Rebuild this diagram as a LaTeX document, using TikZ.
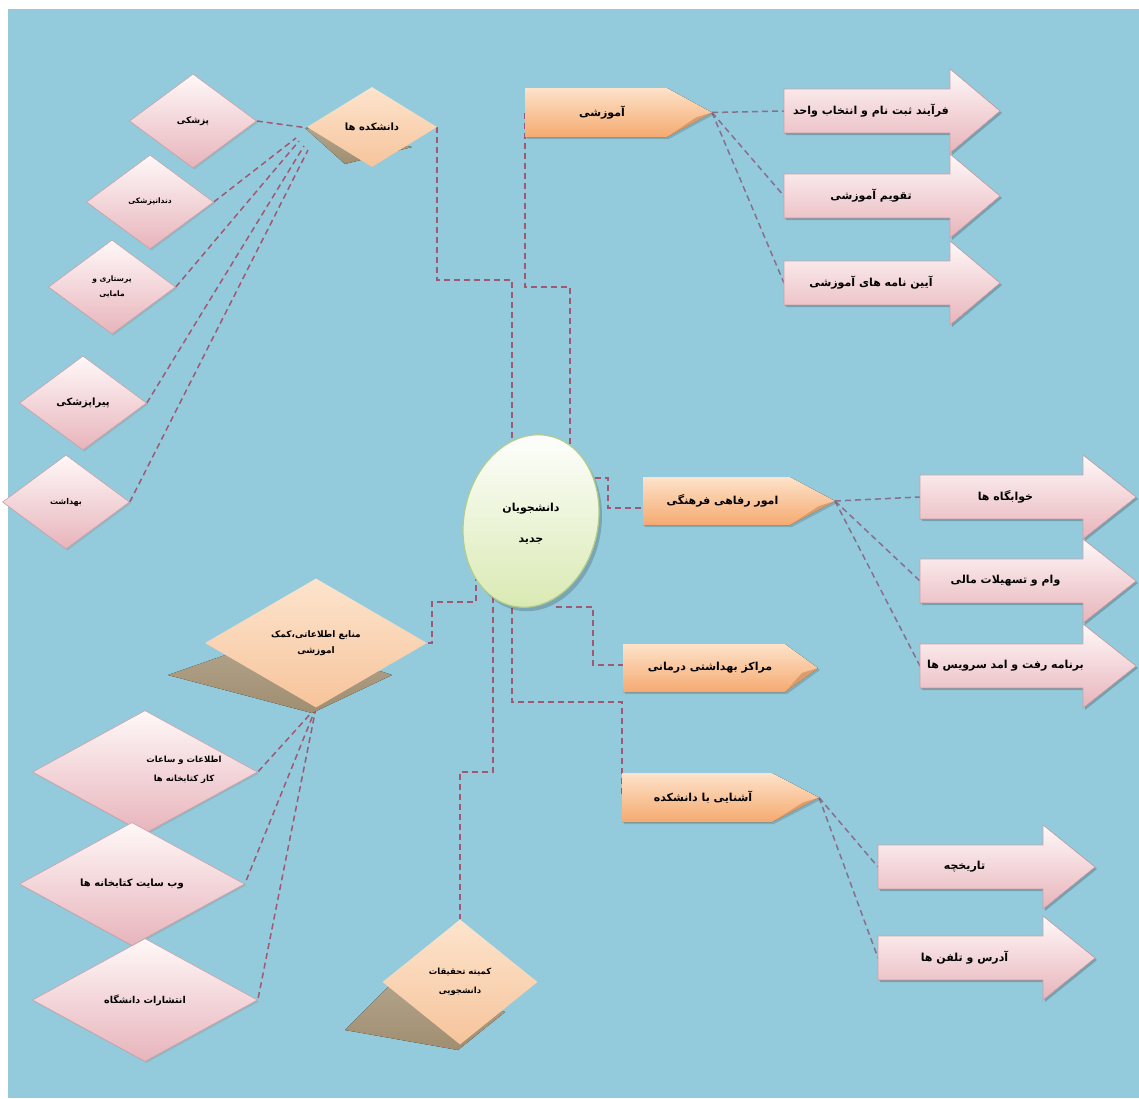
\documentclass[tikz,border=0pt]{standalone}
\usepackage{fontspec}
\newfontfamily\ar[Script=Arabic]{DejaVu Sans}
\TeXXeTstate=1
\usetikzlibrary{shapes.geometric,shadows}
\definecolor{bgblue}{RGB}{147,203,220}
\definecolor{pinkT}{RGB}{255,248,248}
\definecolor{pinkB}{RGB}{231,180,187}
\definecolor{pinkD}{RGB}{205,160,168}
\definecolor{orgT}{RGB}{253,226,202}
\definecolor{orgB}{RGB}{245,170,112}
\definecolor{orgDT}{RGB}{253,228,205}
\definecolor{orgDB}{RGB}{246,196,155}
\definecolor{foldC}{RGB}{212,148,98}
\definecolor{shadC}{RGB}{160,142,112}
\definecolor{ellB}{RGB}{216,233,176}
\definecolor{ellD}{RGB}{178,204,138}
\definecolor{connA}{RGB}{160,88,115}
\definecolor{connB}{RGB}{135,112,140}
\pgfdeclarelayer{back}
\pgfdeclarelayer{bg}
\pgfsetlayers{back,bg,main}
\newcommand\fsz[1]{\fontsize{#1}{#1}\selectfont}
\tikzset{
  conn/.style={draw=connA, line width=1.5pt, dash pattern=on 6pt off 4pt},
  connB/.style={draw=connB, line width=1.5pt, dash pattern=on 6pt off 4pt},
  pinkfill/.style={top color=pinkT, bottom color=pinkB, draw=pinkD, line width=.6pt},
  orgfill/.style={top color=orgT, bottom color=orgB},
  lbl/.style={font=\ar\bfseries\fsz{11}, text=black, align=center, inner sep=0pt},
  pdia/.style={diamond, top color=pinkT, bottom color=pinkB, draw=pinkD, line width=.6pt,
    inner sep=0pt, minimum width=127pt, minimum height=94pt, text=black, align=center,
    font=\ar\bfseries\fsz{9},
    drop shadow={shadow xshift=1.5pt, shadow yshift=-1.5pt, opacity=.25}},
  pdiab/.style={pdia, minimum width=225pt, minimum height=123pt},
  odia/.style={diamond, top color=orgDT, bottom color=orgDB, inner sep=0pt,
    text=black, align=center, font=\ar\bfseries\fsz{10}},
  shadowpoly/.style={top color=shadC!80!white, bottom color=shadC},
}
% name, left, bodyright, tip, top, bottom, text
\newcommand\orgpent[7]{%
  \fill[black, opacity=.15] ({#2+2},{#5+2}) -- ({#3+2},{#5+2}) -- ({#4+2},{(#5+#6)/2+2}) -- ({#3+2},{#6+2}) -- ({#2+2},{#6+2}) -- cycle;
  \fill[orgfill] (#2,#5) -- (#3,#5) -- (#4,{(#5+#6)/2}) -- (#3,#6) -- (#2,#6) -- cycle;
  \fill[foldC, opacity=.8] (#4,{(#5+#6)/2}) -- ({#4-16},{(#5+#6)/2+5}) -- (#3,#6) -- cycle;
  \node[lbl] (#1) at ({(#2+#3)/2+6},{(#5+#6)/2}) {#7};
  \coordinate (#1-w) at (#2,{(#5+#6)/2});
  \coordinate (#1-tip) at (#4,{(#5+#6)/2});
}
% name, left, headstart, tip, centre y, text
\newcommand\pinkarrow[6]{%
  \fill[black, opacity=.2] ({#2+2},{#5-20}) -- ({#3+2},{#5-20}) -- ({#3+2},{#5-40}) -- ({#4+2},{#5+2}) -- ({#3+2},{#5+44}) -- ({#3+2},{#5+24}) -- ({#2+2},{#5+24}) -- cycle;
  \fill[pinkfill] (#2,{#5-22}) -- (#3,{#5-22}) -- (#3,{#5-42}) -- (#4,#5) -- (#3,{#5+42}) -- (#3,{#5+22}) -- (#2,{#5+22}) -- cycle;
  \node[lbl] (#1) at ({(#2+#3)/2+4},#5) {#6};
  \coordinate (#1-w) at (#2,#5);
}
\begin{document}
\begin{tikzpicture}[x=1pt,y=-1pt]
\useasboundingbox (0,0) rectangle (1139,1098);
\begin{pgfonlayer}{back}
  \fill[white] (0,0) rectangle (1139,1098);
  \fill[bgblue] (8,9) rectangle (1139,1098);
\end{pgfonlayer}

% upper-left faculty diamonds
\node[pdia] (pz) at (193,121) {\beginR پزشکی\endR};
\node[pdia, font=\ar\bfseries\fsz{7.5}] (dn) at (150,202) {\beginR دندانپزشکی\endR};
\node[pdia, font=\ar\bfseries\fsz{7.5}] (ps) at (112,287) {\beginR پرستاری و\endR\\[6pt]\beginR مامایی\endR};
\node[pdia, font=\ar\bfseries\fsz{10}] (pr) at (83,403) {\beginR پیراپزشکی\endR};
\node[pdia, font=\ar\bfseries\fsz{8}] (bh) at (66,502) {\beginR بهداشت\endR};

% faculties
\fill[shadowpoly] (305,128) -- (412,147) -- (345,164) -- cycle;
\node[odia, minimum width=130pt, minimum height=80pt] (dk) at (372,127) {\beginR دانشکده ها\endR};

% educational branch
\orgpent{am}{525}{667}{712}{88}{137}{\beginR آموزشی\endR}
\pinkarrow{a1}{784}{950}{1000}{111}{\beginR فرآیند ثبت نام و انتخاب واحد\endR}
\pinkarrow{a2}{784}{950}{1000}{196}{\beginR تقویم آموزشی\endR}
\pinkarrow{a3}{784}{950}{1000}{283}{\beginR آیین نامه های آموزشی\endR}

% centre
\fill[black, opacity=.18, rotate around={-12:(534,525)}] (534,525) ellipse [x radius=67, y radius=87];
\draw[ellD, line width=1.2pt, top color=white, bottom color=ellB, rotate around={-12:(531,521)}] (531,521) ellipse [x radius=67, y radius=87];
\node[lbl] (c) at (531,524) {\beginR دانشجویان\endR\\[20pt]\beginR جدید\endR};

% welfare branch
\orgpent{rf}{643}{790}{835}{477}{525}{\beginR امور رفاهی فرهنگی\endR}
\pinkarrow{b1}{920}{1083}{1136}{497}{\beginR خوابگاه ها\endR}
\pinkarrow{b2}{920}{1083}{1136}{581}{\beginR وام و تسهیلات مالی\endR}
\pinkarrow{b3}{920}{1083}{1136}{666}{\beginR برنامه رفت و امد سرویس ها\endR}

% health centres
\orgpent{mr}{623}{785}{818}{644}{692}{\beginR مراکز بهداشتی درمانی\endR}

% faculty introduction
\orgpent{as}{622}{772}{819}{773}{822}{\beginR آشنایی با دانشکده\endR}
\pinkarrow{t1}{878}{1043}{1095}{867}{\beginR تاریخچه\endR}
\pinkarrow{t2}{878}{1043}{1095}{958}{\beginR آدرس و تلفن ها\endR}

% information resources
\fill[shadowpoly] (168,675) -- (277,637) -- (392,675) -- (312,713) -- cycle;
\node[odia, minimum width=222pt, minimum height=129pt, font=\ar\bfseries\fsz{9}] (mn) at (316,643) {\beginR منابع اطلاعاتی،کمک\endR\\[6pt]\beginR اموزشی\endR};
\node[pdiab] (l1) at (145,772) {};
\node[lbl, font=\ar\bfseries\fsz{8.5}] (l1t) at (184,770) {\beginR اطلاعات و ساعات\endR\\[10pt]\beginR کار کتابخانه ها\endR};
\node[pdiab, font=\ar\bfseries\fsz{10}] (l2) at (132,884) {\beginR وب سایت کتابخانه ها\endR};
\node[pdiab, font=\ar\bfseries\fsz{9.5}] (l3) at (145,1000) {\beginR انتشارات دانشگاه\endR};

% research committee
\fill[shadowpoly] (345,1030) -- (400,975) -- (505,1012) -- (458,1050) -- cycle;
\node[odia, minimum width=155pt, minimum height=125pt, font=\ar\bfseries\fsz{8.5}] (km) at (460,982) {\beginR کمیته تحقیقات\endR\\[10pt]\beginR دانشجویی\endR};

% connector end points
\coordinate (j1) at (308,128);
\coordinate (j2) at (296,138);
\coordinate (j3) at (299,141);
\coordinate (j4) at (304,146);
\coordinate (j5) at (308,150);
\coordinate (e1) at (512,450);
\coordinate (e2) at (570,465);
\coordinate (e3) at (585,478);
\coordinate (e4) at (556,607);
\coordinate (e5) at (512,598);
\coordinate (e6) at (493,597);
\coordinate (e7) at (476,565);

\begin{pgfonlayer}{bg}
  \draw[conn] (pz.east) -- (j1);
  \draw[conn] (dn.east) -- (j2);
  \draw[conn] (ps.east) -- (j3);
  \draw[conn] (pr.east) -- (j4);
  \draw[conn] (bh.east) -- (j5);
  \draw[conn] (dk.east) |- (512,280) -- (e1);
  \draw[conn] (am-w) |- (570,287) -- (e2);
  \draw[conn] (e3) -| (608,508) -- (rf-w |- 608,508);
  \draw[conn] (e4) -| (593,665) -- (mr-w |- 593,665);
  \draw[conn] (e5) |- (622,702) -- (as-w);
  \draw[conn] (e6) |- (460,772) -- (km.north);
  \draw[conn] (e7) |- (432,602) |- (mn.east);
  \draw[conn] (mn.south) -- (l1.east);
  \draw[conn] (mn.south) -- (l2.east);
  \draw[conn] (mn.south) -- (l3.east);
  \draw[connB] (am-tip) -- (a1-w);
  \draw[connB] (am-tip) -- (a2-w);
  \draw[connB] (am-tip) -- (a3-w);
  \draw[connB] (rf-tip) -- (b1-w);
  \draw[connB] (rf-tip) -- (b2-w);
  \draw[connB] (rf-tip) -- (b3-w);
  \draw[connB] (as-tip) -- (t1-w);
  \draw[connB] (as-tip) -- (t2-w);
\end{pgfonlayer}
\end{tikzpicture}
\end{document}
